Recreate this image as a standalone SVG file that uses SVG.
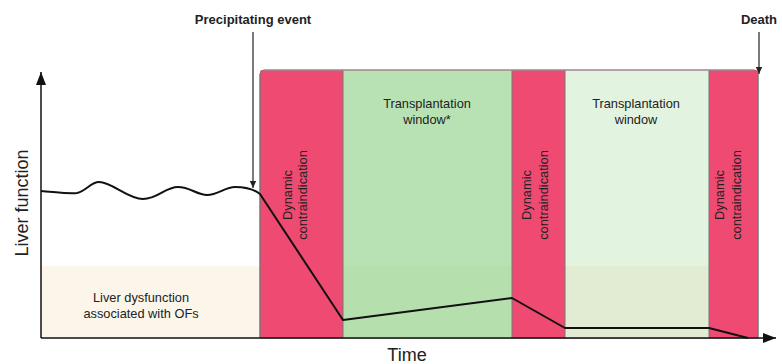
<svg xmlns="http://www.w3.org/2000/svg" width="782" height="364" viewBox="0 0 782 364">
<defs>
<style>
.t{font-family:"Liberation Sans",Arial,sans-serif;fill:#222;}
.s12{font-size:12.8px;}
.b{font-size:13px;font-weight:bold;}
.ax{font-size:18px;}
.red{fill:#ef4a72;}
.sep{stroke:#777;stroke-width:1;fill:none;}
.curve{stroke:#111;stroke-width:2;fill:none;stroke-linejoin:round;}
.axis{stroke:#111;stroke-width:1.5;fill:none;}
.pointer{stroke:#222;stroke-width:1.2;fill:none;}
</style>
<marker id="ah" markerWidth="8" markerHeight="8" refX="7" refY="4" orient="auto" markerUnits="userSpaceOnUse">
<path d="M0,0.8 L7,4 L0,7.2 Z" fill="#222"/>
</marker>
<marker id="axh" markerWidth="14" markerHeight="10" refX="13" refY="5" orient="auto" markerUnits="userSpaceOnUse">
<path d="M0,0 L13,5 L0,10 Z" fill="#111"/>
</marker>
</defs>
<rect width="782" height="364" fill="#fff"/>
<g id="baseline-band">
<rect x="41" y="266" width="219" height="72" fill="#fbf5ea"/>
<text class="t s12" x="141" y="302" text-anchor="middle">Liver dysfunction</text>
<text class="t s12" x="141" y="318" text-anchor="middle">associated with OFs</text>
</g>
<g id="timeline">
<path d="M260,338 V74 Q260,70 264,70 H754 Q758,70 758,74 V338 Z" fill="#ef4a72" stroke="#777" stroke-width="1"/>
</g>
<g id="dc1">
<rect class="red" x="260.5" y="70.5" width="82.5" height="267.5"/>
<text class="t s12" transform="translate(292,195) rotate(-90)" text-anchor="middle">Dynamic</text>
<text class="t s12" transform="translate(307,195) rotate(-90)" text-anchor="middle">contraindication</text>
</g>
<g id="window1">
<rect x="343" y="70.5" width="169" height="267.5" fill="#b8e2b3"/>
<rect x="343" y="266" width="169" height="72" fill="#b6dfae"/>
<text class="t s12" x="427" y="108" text-anchor="middle">Transplantation</text>
<text class="t s12" x="427" y="124" text-anchor="middle">window*</text>
</g>
<g id="dc2">
<rect class="red" x="512" y="70.5" width="53" height="267.5"/>
<text class="t s12" transform="translate(531,195) rotate(-90)" text-anchor="middle">Dynamic</text>
<text class="t s12" transform="translate(548,195) rotate(-90)" text-anchor="middle">contraindication</text>
</g>
<g id="window2">
<rect x="565" y="70.5" width="144" height="267.5" fill="#e2f3e0"/>
<rect x="565" y="266" width="144" height="72" fill="#e1ecd3"/>
<text class="t s12" x="636" y="108" text-anchor="middle">Transplantation</text>
<text class="t s12" x="636" y="124" text-anchor="middle">window</text>
</g>
<g id="dc3">
<rect class="red" x="709" y="70.5" width="48.5" height="267.5"/>
<text class="t s12" transform="translate(724,195) rotate(-90)" text-anchor="middle">Dynamic</text>
<text class="t s12" transform="translate(741,195) rotate(-90)" text-anchor="middle">contraindication</text>
</g>
<g id="separators">
<path class="sep" d="M260,74 V338 M343,70 V338 M512,70 V338 M565,70 V338 M709,70 V338 M758,74 V338"/>
<path d="M264,70 H754" stroke="#999" stroke-width="1" fill="none"/>
</g>
<g id="connectors">
<path class="curve" d="M41,191 C55,192 68,194 77,193 C86,191 91,182 99,182 C112,182 128,199 143,199 C158,199 165,187 178,187 C190,187 197,195 207,195 C218,195 225,187 235,187 C247,187 255,190 260,194 L343,320 L512,298 L565,328 L709,328 L748,338"/>
<path class="axis" d="M41,338 V72" marker-end="url(#axh)"/>
<path class="axis" d="M41,338 H776" marker-end="url(#axh)"/>
<path class="pointer" d="M253,32 V188" marker-end="url(#ah)"/>
<path class="pointer" d="M759,32 V74" marker-end="url(#ah)"/>
</g>
<g id="labels">
<text class="t b" x="253" y="24" text-anchor="middle">Precipitating event</text>
<text class="t b" x="759" y="24" text-anchor="middle">Death</text>
<text class="t ax" transform="translate(28,203) rotate(-90)" text-anchor="middle">Liver function</text>
<text class="t ax" x="407" y="361" text-anchor="middle">Time</text>
</g>
</svg>
